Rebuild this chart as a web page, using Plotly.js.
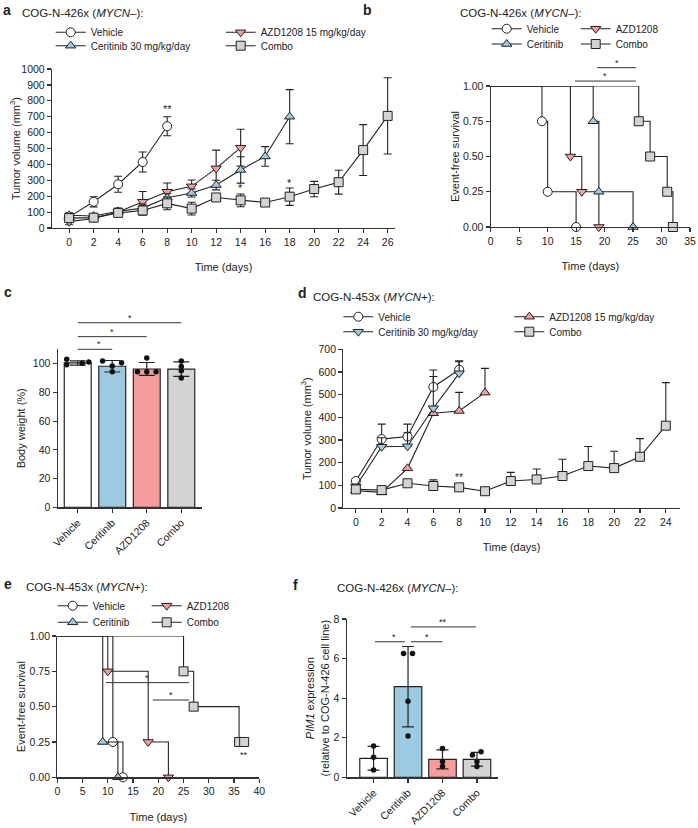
<!DOCTYPE html>
<html><head><meta charset="utf-8">
<script src="https://cdn.plot.ly/plotly-3.0.1.min.js"></script>
<style>html,body{margin:0;padding:0;background:#fff}#chart{width:698px;height:828px}</style>
</head><body><div id="chart"></div>
<script>
// ================= DATA =================
const treatments = ['Vehicle', 'Ceritinib', 'AZD1208', 'Combo'];

// Panel a: COG-N-426x tumor volume (mm3)
const a_vehicle_t = [0, 2, 4, 6, 8];
const a_vehicle_v = [70, 165, 275, 415, 640];
const a_vehicle_e = [15, 32, 50, 63, 60];
const a_ceritinib_t = [0, 2, 4, 6, 8, 10, 12, 14, 16, 18];
const a_ceritinib_v = [80, 75, 105, 125, 190, 220, 270, 365, 450, 700];
const a_ceritinib_e = [15, 15, 20, 25, 25, 25, 30, 83, 62, 170];
const a_azd_t = [0, 2, 4, 6, 8, 10, 12, 14];
const a_azd_v = [40, 60, 100, 165, 228, 262, 375, 505];
const a_azd_e = [20, 15, 20, 65, 55, 40, 115, 116];
const a_combo_t = [0, 2, 4, 6, 8, 10, 12, 14, 16, 18, 20, 22, 24, 26];
const a_combo_v = [62, 65, 95, 110, 155, 122, 192, 174, 160, 197, 245, 288, 490, 705];
const a_combo_e = [15, 15, 20, 30, 40, 40, 20, 40, 10, 55, 48, 75, 160, 240];
const a_star_t = [8, 14, 18];
const a_star_v = [747, 250, 285];
const a_star_txt = ['**', '*', '*'];

// Panel b: COG-N-426x event-free survival
const b_vehicle_t = [0, 9, 10, 15];
const b_vehicle_s = [1, 0.75, 0.25, 0];
const b_ceritinib_t = [0, 18, 19, 25];
const b_ceritinib_s = [1, 0.75, 0.25, 0];
const b_azd_t = [0, 14, 16, 19];
const b_azd_s = [1, 0.5, 0.25, 0];
const b_combo_t = [0, 26, 28, 31, 32];
const b_combo_s = [1, 0.75, 0.5, 0.25, 0];
const b_sig_x0 = [18.7, 14.8];
const b_sig_x1 = [25.5, 25.5];
const b_sig_y = [1.13, 1.035];

// Panel c: body weight (%)
const c_mean = [100.5, 98.2, 96.3, 96.2];
const c_err = [1.5, 4, 4.5, 5];
const c_dot_group = [0, 0, 0, 0, 1, 1, 1, 1, 2, 2, 2, 2, 3, 3, 3, 3];
const c_dot_jitter = [-0.32, -0.32, 0.13, 0.32, -0.28, 0, 0.27, 0, 0, -0.27, 0, 0.27, 0, 0, 0, 0];
const c_dot_val = [103, 99.2, 100.3, 101.2, 101.9, 98.4, 100.7, 94.4, 103.9, 94.4, 94.4, 94.4, 101.9, 98, 95, 90];
const c_sig_x0 = [0, 0, 0];
const c_sig_x1 = [1, 2, 3];
const c_sig_y = [110, 118.8, 128.5];

// Panel d: COG-N-453x tumor volume (mm3)
const d_vehicle_t = [0, 2, 4, 6, 8];
const d_vehicle_v = [119, 304, 315, 534, 610];
const d_vehicle_e = [10, 66, 55, 75, 35];
const d_ceritinib_t = [0, 2, 4, 6, 8];
const d_ceritinib_v = [95, 270, 272, 440, 594];
const d_ceritinib_e = [10, 40, 60, 140, 55];
const d_azd_t = [0, 2, 4, 6, 8, 10];
const d_azd_v = [76, 69, 175, 418, 428, 509];
const d_azd_e = [0, 0, 0, 0, 82, 107];
const d_combo_t = [0, 2, 4, 6, 8, 10, 12, 14, 16, 18, 20, 22, 24];
const d_combo_v = [82, 79, 109, 97, 91, 74, 119, 126, 141, 185, 176, 226, 363];
const d_combo_e = [0, 0, 17, 27, 0, 0, 38, 46, 74, 86, 74, 80, 190];
const d_star_t = [8];
const d_star_v = [135];

// Panel e: COG-N-453x event-free survival
const e_vehicle_t = [0, 11, 13];
const e_vehicle_s = [1, 0.25, 0];
const e_ceritinib_t = [0, 9, 12];
const e_ceritinib_s = [1, 0.25, 0];
const e_azd_t = [0, 10, 18, 22];
const e_azd_s = [1, 0.75, 0.25, 0];
const e_combo_t = [0, 25, 27, 36, 37];
const e_combo_s = [1, 0.75, 0.5, 0.25, 0.25];
const e_sig_x0 = [9.6, 18.9];
const e_sig_x1 = [26.1, 26.1];
const e_sig_y = [0.67, 0.547];

// Panel f: PIM1 expression
const f_mean = [0.96, 4.58, 0.91, 0.91];
const f_err = [0.6, 2.03, 0.48, 0.35];
const f_dot_group = [0, 0, 0, 1, 1, 1, 1, 2, 2, 2, 3, 3, 3, 3];
const f_dot_jitter = [0, 0, 0, -0.13, 0.13, 0, 0, 0, 0, 0, -0.13, 0.12, 0, 0];
const f_dot_val = [1.58, 1.01, 0.37, 6.26, 6.26, 3.84, 2.09, 1.46, 0.79, 0.54, 1.13, 1.29, 0.79, 0.54];
const f_sig_x0 = [0.04, 1.08, 1.08];
const f_sig_x1 = [0.91, 2.0, 2.97];
const f_sig_y = [6.85, 6.85, 7.6];
const f_sig_txt = ['*', '*', '**'];

// ================= STYLE =================
const W = 698, H = 828;
const FONT = 'Liberation Sans, Arial, Helvetica, sans-serif';
const INK = '#222';
const C_WHITE = '#ffffff', C_BLUE = '#9ecae1', C_RED = '#f59d9d', C_GREY = '#d3d3d3';
const X = p => p / W;
const Y = p => 1 - p / H;

const baseAx = {
  showline: true, linecolor: '#333', linewidth: 1.2, ticks: 'outside', ticklen: 4,
  tickwidth: 1.2, tickcolor: '#333', showgrid: false, zeroline: false, fixedrange: true,
  tickfont: {size: 10.5, color: INK, family: FONT}
};
function ax(o) { return Object.assign({}, baseAx, o); }
function ttl(t, s) { return {text: t, font: {size: s || 11, color: INK, family: FONT}}; }

const traces = [];
function tumor(xa, ya, t, v, e, sym, col, name, leg, upOnly) {
  const err = upOnly
    ? {type: 'data', symmetric: false, array: e, arrayminus: e.map(() => 0), color: INK, thickness: 1.1, width: 4}
    : {type: 'data', array: e, color: INK, thickness: 1.1, width: 4};
  traces.push({type: 'scatter', mode: 'lines+markers', x: t, y: v, xaxis: xa, yaxis: ya, name: name,
    legend: leg, cliponaxis: false, error_y: err,
    line: {color: INK, width: 1.1},
    marker: {symbol: sym, size: 9, color: col, line: {color: INK, width: 1}}});
}
function km(xa, ya, t, s, sym, col, name, leg) {
  traces.push({type: 'scatter', mode: 'lines', x: t, y: s, xaxis: xa, yaxis: ya, showlegend: false,
    cliponaxis: false, line: {color: INK, width: 1.1, shape: 'hv'}, hoverinfo: 'skip'});
  traces.push({type: 'scatter', mode: 'markers', x: t.slice(1), y: s.slice(1), xaxis: xa, yaxis: ya,
    showlegend: false, cliponaxis: false,
    marker: {symbol: sym, size: 9, color: col, line: {color: INK, width: 1}}});
}
function kmLegend(xa, ya, sym, col, name, leg) {
  traces.push({type: 'scatter', mode: 'lines+markers', x: [null], y: [null], xaxis: xa, yaxis: ya,
    name: name, legend: leg, line: {color: INK, width: 1.1},
    marker: {symbol: sym, size: 9, color: col, line: {color: INK, width: 1}}});
}
function bars(xa, ya, mean, err, width, capw) {
  traces.push({type: 'bar', x: [0, 1, 2, 3], y: mean, xaxis: xa, yaxis: ya, width: width, showlegend: false,
    marker: {color: [C_WHITE, C_BLUE, C_RED, C_GREY], line: {color: INK, width: 1.2}},
    error_y: {type: 'data', array: err, color: INK, thickness: 1.2, width: capw}});
}
function dots(xa, ya, grp, jit, val) {
  traces.push({type: 'scatter', mode: 'markers', x: grp.map((g, i) => g + jit[i]), y: val, xaxis: xa, yaxis: ya,
    showlegend: false, cliponaxis: false, marker: {color: '#111', size: 5.5}});
}

// Panel a
tumor('x', 'y', a_vehicle_t, a_vehicle_v, a_vehicle_e, 'circle', C_WHITE, 'Vehicle', 'legend');
tumor('x', 'y', a_azd_t, a_azd_v, a_azd_e, 'triangle-down', C_RED, 'AZD1208 15 mg/kg/day', 'legend');
tumor('x', 'y', a_ceritinib_t, a_ceritinib_v, a_ceritinib_e, 'triangle-up', C_BLUE, 'Ceritinib 30 mg/kg/day', 'legend2');
tumor('x', 'y', a_combo_t, a_combo_v, a_combo_e, 'square', C_GREY, 'Combo', 'legend2');

// Panel b
km('x2', 'y2', b_vehicle_t, b_vehicle_s, 'circle', C_WHITE);
km('x2', 'y2', b_azd_t, b_azd_s, 'triangle-down', C_RED);
km('x2', 'y2', b_ceritinib_t, b_ceritinib_s, 'triangle-up', C_BLUE);
km('x2', 'y2', b_combo_t, b_combo_s, 'square', C_GREY);
kmLegend('x2', 'y2', 'circle', C_WHITE, 'Vehicle', 'legend3');
kmLegend('x2', 'y2', 'triangle-down', C_RED, 'AZD1208', 'legend3');
kmLegend('x2', 'y2', 'triangle-up', C_BLUE, 'Ceritinib', 'legend4');
kmLegend('x2', 'y2', 'square', C_GREY, 'Combo', 'legend4');

// Panel c
bars('x3', 'y3', c_mean, c_err, 0.78, 8);
dots('x3', 'y3', c_dot_group, c_dot_jitter, c_dot_val);

// Panel d
tumor('x4', 'y4', d_vehicle_t, d_vehicle_v, d_vehicle_e, 'circle', C_WHITE, 'Vehicle', 'legend5', true);
tumor('x4', 'y4', d_azd_t, d_azd_v, d_azd_e, 'triangle-up', C_RED, 'AZD1208 15 mg/kg/day', 'legend5', true);
tumor('x4', 'y4', d_ceritinib_t, d_ceritinib_v, d_ceritinib_e, 'triangle-down', C_BLUE, 'Ceritinib 30 mg/kg/day', 'legend6', true);
tumor('x4', 'y4', d_combo_t, d_combo_v, d_combo_e, 'square', C_GREY, 'Combo', 'legend6', true);

// Panel e
km('x5', 'y5', e_vehicle_t, e_vehicle_s, 'circle', C_WHITE);
km('x5', 'y5', e_azd_t, e_azd_s, 'triangle-down', C_RED);
km('x5', 'y5', e_ceritinib_t, e_ceritinib_s, 'triangle-up', C_BLUE);
km('x5', 'y5', e_combo_t, e_combo_s, 'square', C_GREY);
kmLegend('x5', 'y5', 'circle', C_WHITE, 'Vehicle', 'legend7');
kmLegend('x5', 'y5', 'triangle-down', C_RED, 'AZD1208', 'legend7');
kmLegend('x5', 'y5', 'triangle-up', C_BLUE, 'Ceritinib', 'legend8');
kmLegend('x5', 'y5', 'square', C_GREY, 'Combo', 'legend8');

// Panel f
bars('x6', 'y6', f_mean, f_err, 0.8, 6);
dots('x6', 'y6', f_dot_group, f_dot_jitter, f_dot_val);

// ================= AXES =================
const R = {
  x: [-1.4, 26.6], y: [0, 1000], x2: [0, 35], y2: [0, 1], x3: [-0.58, 3.6], y3: [0, 110],
  x4: [-0.97, 25.1], y4: [0, 700], x5: [0, 40], y5: [0, 1], x6: [-0.78, 3.62], y6: [0, 8]
};
const survTicks = {tickvals: [0, 0.25, 0.5, 0.75, 1], ticktext: ['0.00', '0.25', '0.50', '0.75', '1.00']};
const layout = {
  width: W, height: H, margin: {l: 0, r: 0, t: 0, b: 0}, paper_bgcolor: '#fff', plot_bgcolor: 'rgba(0,0,0,0)',
  font: {family: FONT, color: INK, size: 10.5}, hovermode: false,
  xaxis: ax({domain: [X(52), X(395)], range: R.x, anchor: 'y', tickvals: a_combo_t, title: ttl('Time (days)')}),
  yaxis: ax({domain: [Y(228), Y(69)], range: R.y, anchor: 'x', dtick: 100, title: ttl('Tumor volume (mm<sup>3</sup>)')}),
  xaxis2: ax({domain: [X(490.7), X(690)], range: R.x2, anchor: 'y2', dtick: 5, title: ttl('Time (days)')}),
  yaxis2: ax(Object.assign({domain: [Y(227), Y(86)], range: R.y2, anchor: 'x2', title: ttl('Event-free survival')}, survTicks)),
  xaxis3: ax({domain: [X(57.7), X(202)], range: R.x3, anchor: 'y3', tickvals: [0, 1, 2, 3], ticktext: treatments, tickangle: -45}),
  yaxis3: ax({domain: [Y(507.3), Y(349.3)], range: R.y3, anchor: 'x3', tickvals: [0, 20, 40, 60, 80, 100], title: ttl('Body weight (%)')}),
  xaxis4: ax({domain: [X(343.3), X(680)], range: R.x4, anchor: 'y4', tickvals: d_combo_t, title: ttl('Time (days)')}),
  yaxis4: ax({domain: [Y(508), Y(349.3)], range: R.y4, anchor: 'x4', dtick: 100, title: ttl('Tumor volume (mm<sup>3</sup>)')}),
  xaxis5: ax({domain: [X(57.3), X(259.3)], range: R.x5, anchor: 'y5', dtick: 5, title: ttl('Time (days)')}),
  yaxis5: ax(Object.assign({domain: [Y(777.3), Y(636)], range: R.y5, anchor: 'x5', title: ttl('Event-free survival')}, survTicks)),
  xaxis6: ax({domain: [X(346.7), X(498.3)], range: R.x6, anchor: 'y6', tickvals: [0, 1, 2, 3], ticktext: treatments, tickangle: -45}),
  yaxis6: ax({domain: [Y(777.3), Y(619)], range: R.y6, anchor: 'x6', dtick: 2, title: ttl('<i>PIM1</i> expression<br>(relative to COG-N-426 cell line)')}),
  shapes: [], annotations: []
};

// ================= LEGENDS =================
function leg(leftPx, yPx, ew) {
  return {orientation: 'h', x: X(leftPx), xanchor: 'left', y: Y(yPx), yanchor: 'middle',
    bgcolor: 'rgba(0,0,0,0)', borderwidth: 0, entrywidth: ew, entrywidthmode: 'pixels',
    font: {size: 10, color: INK, family: FONT}, itemclick: false, itemdoubleclick: false, tracegroupgap: 0};
}
layout.legend = leg(50.7, 32.3, 125);
layout.legend2 = leg(50.7, 45.7, 125);
layout.legend3 = leg(486.7, 28.7, 44);
layout.legend4 = leg(486.7, 44, 44);
layout.legend5 = leg(338.3, 316.7, 126);
layout.legend6 = leg(338.3, 331.7, 126);
layout.legend7 = leg(52.7, 605.7, 49);
layout.legend8 = leg(52.7, 622.3, 49);

// ================= ANNOTATIONS =================
function note(xp, yp, txt, size, bold) {
  layout.annotations.push({xref: 'paper', yref: 'paper', x: X(xp), y: Y(yp), xanchor: 'left', yanchor: 'middle',
    text: bold ? '<b>' + txt + '</b>' : txt, showarrow: false, font: {size: size, color: INK, family: FONT}});
}
note(1, 10, 'a', 14, true);
note(20, 13, 'COG-N-426x (<i>MYCN</i>–):', 11.5);
note(361, 10, 'b', 14, true);
note(458, 13, 'COG-N-426x (<i>MYCN</i>–):', 11.5);
note(2, 292, 'c', 14, true);
note(296, 293, 'd', 14, true);
note(311, 297, 'COG-N-453x (<i>MYCN</i>+):', 11.5);
note(2, 584, 'e', 14, true);
note(24, 587, 'COG-N-453x (<i>MYCN</i>+):', 11.5);
note(291, 585, 'f', 14, true);
note(335, 588, 'COG-N-426x (<i>MYCN</i>–):', 11.5);

// data-referenced stars
function star(xa, ya, x, y, txt, size) {
  layout.annotations.push({xref: xa, yref: ya, x: x, y: y, text: txt, showarrow: false, yanchor: 'middle',
    font: {size: size || 10, color: INK, family: FONT}});
}
a_star_t.forEach((t, i) => star('x', 'y', t, a_star_v[i], a_star_txt[i], 11));
d_star_t.forEach((t, i) => star('x4', 'y4', t, d_star_v[i], '**', 10));
star('x5', 'y5', 37, 0.16, '**', 9);

// significance bars (domain refs so they may sit above the axis range)
function frac(r, v) { return (v - r[0]) / (r[1] - r[0]); }
function sig(xid, yid, x0, x1, y, txt, dyPx) {
  const xr = R[xid], yr = R[yid];
  const xa = xid + ' domain', ya = yid + ' domain';
  layout.shapes.push({type: 'line', xref: xa, yref: ya, x0: frac(xr, x0), x1: frac(xr, x1),
    y0: frac(yr, y), y1: frac(yr, y), line: {color: '#333', width: 1}});
  layout.annotations.push({xref: xa, yref: ya, x: frac(xr, (x0 + x1) / 2), y: frac(yr, y), yshift: dyPx || 5,
    text: txt, showarrow: false, yanchor: 'middle', font: {size: 9, color: INK, family: FONT}});
}
b_sig_y.forEach((y, i) => sig('x2', 'y2', b_sig_x0[i], b_sig_x1[i], y, '*'));
c_sig_y.forEach((y, i) => sig('x3', 'y3', c_sig_x0[i], c_sig_x1[i], y, '*'));
e_sig_y.forEach((y, i) => sig('x5', 'y5', e_sig_x0[i], e_sig_x1[i], y, '*'));
f_sig_y.forEach((y, i) => sig('x6', 'y6', f_sig_x0[i], f_sig_x1[i], y, f_sig_txt[i]));

Plotly.newPlot('chart', traces, layout, {staticPlot: true, displayModeBar: false});
</script></body></html>
